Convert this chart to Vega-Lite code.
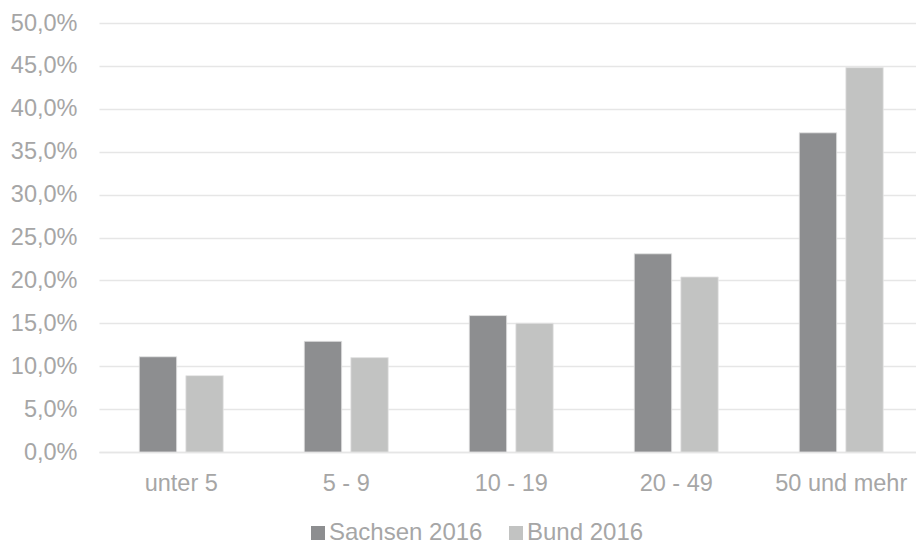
{
  "$schema": "https://vega.github.io/schema/vega-lite/v6.json",
  "autosize": "none",
  "width": 817,
  "height": 429,
  "padding": {"left": 99, "top": 23, "right": 0, "bottom": 96},
  "background": "#ffffff",
  "config": {
    "locale": {"number": {"decimal": ",", "thousands": ".", "grouping": [3], "currency": ["", " €"]}},
    "view": {"stroke": null},
    "font": "Liberation Sans"
  },
  "data": {
    "values": [
      {"Klasse": "unter 5", "Reihe": "Sachsen 2016", "Wert": 0.111},
      {"Klasse": "unter 5", "Reihe": "Bund 2016", "Wert": 0.089},
      {"Klasse": "5 - 9", "Reihe": "Sachsen 2016", "Wert": 0.129},
      {"Klasse": "5 - 9", "Reihe": "Bund 2016", "Wert": 0.110},
      {"Klasse": "10 - 19", "Reihe": "Sachsen 2016", "Wert": 0.159},
      {"Klasse": "10 - 19", "Reihe": "Bund 2016", "Wert": 0.150},
      {"Klasse": "20 - 49", "Reihe": "Sachsen 2016", "Wert": 0.231},
      {"Klasse": "20 - 49", "Reihe": "Bund 2016", "Wert": 0.204},
      {"Klasse": "50 und mehr", "Reihe": "Sachsen 2016", "Wert": 0.372},
      {"Klasse": "50 und mehr", "Reihe": "Bund 2016", "Wert": 0.448}
    ]
  },
  "mark": {"type": "bar", "stroke": "#e4e4e4", "strokeWidth": 0.8},
  "encoding": {
    "x": {
      "field": "Klasse",
      "type": "nominal",
      "sort": ["unter 5", "5 - 9", "10 - 19", "20 - 49", "50 und mehr"],
      "scale": {"paddingInner": 0.491, "paddingOuter": 0.244, "range": [0, 824.5]},
      "axis": {
        "title": null,
        "labelAngle": 0,
        "domain": true,
        "domainColor": "#e6e6e6",
        "domainWidth": 1.5,
        "ticks": false,
        "tickSize": 0,
        "labelPadding": 19,
        "labelFontSize": 23.5,
        "labelColor": "#a6a6a6",
        "labelFont": "Liberation Sans"
      }
    },
    "xOffset": {
      "field": "Reihe",
      "type": "nominal",
      "sort": ["Sachsen 2016", "Bund 2016"],
      "scale": {"paddingInner": 0.197, "paddingOuter": 0}
    },
    "y": {
      "field": "Wert",
      "type": "quantitative",
      "scale": {"domain": [0, 0.5], "nice": false},
      "axis": {
        "title": null,
        "format": ".1%",
        "values": [0, 0.05, 0.1, 0.15, 0.2, 0.25, 0.3, 0.35, 0.4, 0.45, 0.5],
        "domain": false,
        "ticks": false,
        "tickSize": 0,
        "labelPadding": 22,
        "labelFontSize": 23.5,
        "labelColor": "#a6a6a6",
        "labelFont": "Liberation Sans",
        "gridColor": "#e6e6e6",
        "gridWidth": 1.3
      }
    },
    "color": {
      "field": "Reihe",
      "type": "nominal",
      "sort": ["Sachsen 2016", "Bund 2016"],
      "scale": {"domain": ["Sachsen 2016", "Bund 2016"], "range": ["#8d8e90", "#c2c3c2"]},
      "legend": {
        "title": null,
        "orient": "none",
        "direction": "horizontal",
        "legendX": 207,
        "legendY": 498,
        "padding": 0,
        "symbolType": "square",
        "symbolSize": 196,
        "symbolStrokeWidth": 0,
        "labelOffset": -1,
        "columnPadding": 21,
        "labelFontSize": 24,
        "labelColor": "#a6a6a6",
        "labelFont": "Liberation Sans"
      }
    }
  }
}
